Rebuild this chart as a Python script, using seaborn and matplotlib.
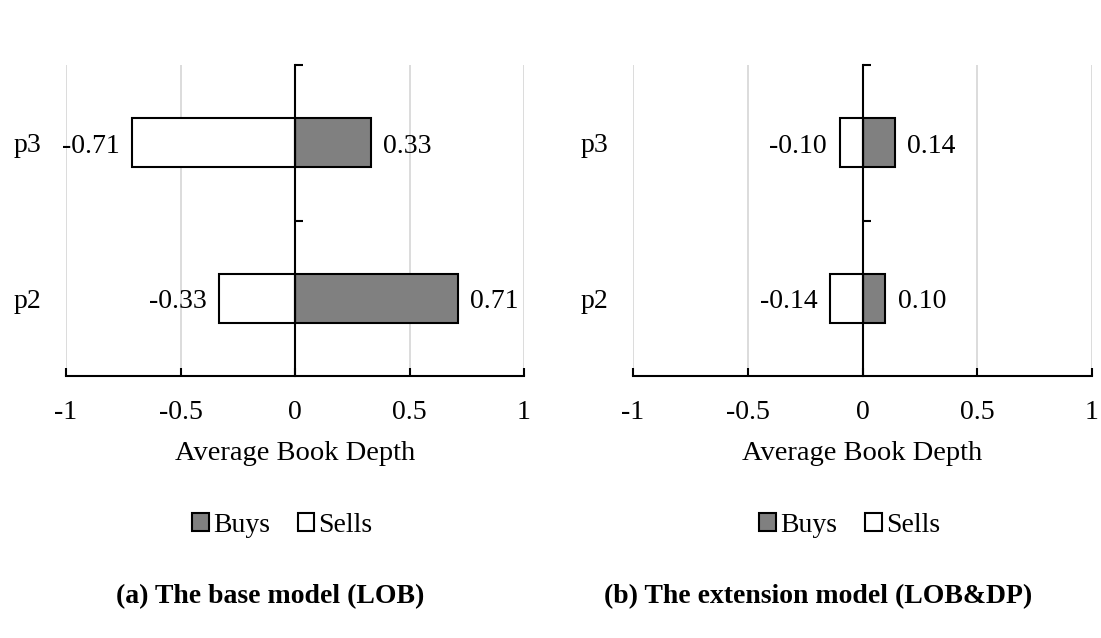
import numpy as np
import pandas as pd
import matplotlib
matplotlib.use("Agg")
import matplotlib.pyplot as plt
from matplotlib.ticker import FixedLocator
import seaborn as sns

# ---- data ----
categories = ["p3", "p2"]
sides = ["Buys", "Sells"]
base_buys = [0.33, 0.71]
base_sells = [-0.71, -0.33]
ext_buys = [0.14, 0.10]
ext_sells = [-0.10, -0.14]
x_ticks = [-1, -0.5, 0, 0.5, 1]
x_tick_labels = ["-1", "-0.5", "0", "0.5", "1"]
x_label = "Average Book Depth"
titles = ["(a) The base model (LOB)", "(b) The extension model (LOB&DP)"]

sns.set_style("white")
plt.rcParams["font.family"] = ["Liberation Serif", "DejaVu Serif"]
plt.rcParams["font.size"] = 20
plt.rcParams["text.color"] = "black"
plt.rcParams["axes.labelcolor"] = "black"
plt.rcParams["xtick.color"] = "black"
plt.rcParams["ytick.color"] = "black"

W, H = 1101, 638
fig = plt.figure(figsize=(W / 100, H / 100), dpi=100)

ax_top, ax_bot = 65, 376
panels = [
    (66, 524, base_buys, base_sells, titles[0], 270),
    (633, 1092, ext_buys, ext_sells, titles[1], 818),
]
palette = {"Buys": "#808080", "Sells": "#ffffff"}

for left, right, buys, sells, title, tx in panels:
    ax = fig.add_axes([left / W, 1 - ax_bot / H, (right - left) / W, (ax_bot - ax_top) / H])
    df = pd.DataFrame({
        "cat": categories * 2,
        "side": ["Buys"] * len(categories) + ["Sells"] * len(categories),
        "value": list(buys) + list(sells),
    })
    sns.barplot(data=df, y="cat", x="value", hue="side", order=categories,
                hue_order=sides, palette=palette, dodge=False, width=0.315,
                edgecolor="black", linewidth=1.5, ax=ax, legend=True)
    for cont in ax.containers:
        anns = ax.bar_label(cont, fmt="%.2f", padding=9, fontsize=20, color="black")
        for a in anns:
            xo, yo = a.xyann
            a.xyann = (xo, yo - 2.5)

    ax.set_xlim(-1, 1)
    ax.set_ylim(1.5, -0.5)
    ax.set_xticks(x_ticks)
    ax.set_xticklabels(x_tick_labels)
    ax.set_ylabel("")
    ax.set_xlabel(x_label, fontsize=20.5)
    ax.xaxis.label.set_va("center")
    ax.xaxis.set_label_coords(0.5, -(453 - ax_bot) / (ax_bot - ax_top))

    ax.set_axisbelow(True)
    ax.grid(axis="x", color="#d9d9d9", linewidth=1.3)
    ax.grid(axis="y", visible=False)

    for s in ["top", "left"]:
        ax.spines[s].set_visible(False)
    ax.spines["bottom"].set_color("black")
    ax.spines["bottom"].set_linewidth(1.5)
    ax.spines["right"].set_position(("data", 0))
    ax.spines["right"].set_color("black")
    ax.spines["right"].set_linewidth(1.5)

    ax.tick_params(axis="x", which="major", bottom=True, top=False,
                   direction="in", length=5.5, width=1.5, pad=17,
                   labelsize=20, colors="black")
    ax.tick_params(axis="y", which="major", left=False, right=False,
                   labelleft=True, labelright=False, pad=14, labelsize=20)
    ax.yaxis.set_minor_locator(FixedLocator([-0.5, 0.5]))
    ax.tick_params(axis="y", which="minor", left=False, right=True,
                   direction="out", length=5.5, width=1.5, color="black")

    handles, labels = ax.get_legend_handles_labels()
    ax.get_legend().remove()
    ax.legend(handles, labels, loc="center", ncol=2, frameon=False,
              bbox_to_anchor=(0.472, -(525 - ax_bot) / (ax_bot - ax_top)),
              handlelength=0.6, handleheight=0.6, handletextpad=0.15,
              columnspacing=1.0, fontsize=20)

    fig.text(tx / W, 1 - 597 / H, title, ha="center", va="center",
             fontsize=20, fontweight="bold")

fig.savefig("out.png", dpi=100, facecolor="white")
